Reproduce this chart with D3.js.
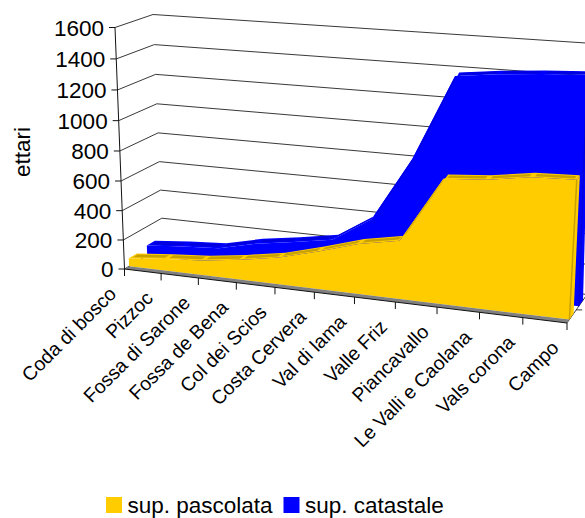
<!DOCTYPE html>
<html>
<head>
<meta charset="utf-8">
<script src="https://cdn.jsdelivr.net/npm/d3@7"></script>
<style>
  html, body { margin: 0; padding: 0; background: #fff; overflow: hidden; }
  text { font-family: "Liberation Sans", Arial, sans-serif; fill: #000; }
</style>
</head>
<body>
<svg id="chart"></svg>
<script>
const categories = ["Coda di bosco", "Pizzoc", "Fossa di Sarone", "Fossa de Bena", "Col dei Scios", "Costa Cervera",
    "Val di lama", "Valle Friz", "Piancavallo", "Le Valli e Caolana", "Vals corona", "Campo"];
const pascolata = [55, 80, 100, 135, 180, 250, 330, 380, 800, 820, 860, 870];
const catastale = [70, 93, 110, 170, 210, 255, 420, 840, 1385, 1415, 1435, 1450];
const valueTicks = [0, 200, 400, 600, 800, 1000, 1200, 1400, 1600];
const legendNames = ["sup. pascolata", "sup. catastale"];

const width = 585;
const height = 518;

const yellow = "#ffcc00", yellowDark = "#c8a000";
const blue = "#0000ff", blueDark = "#0000dc";

// corners of the 3d box, base and top of each vertical edge
const box = {
    frontLeft: { base: [124.5, 269], top: [115, 27.5] },
    frontRight: { base: [567, 323], top: [582, 59] },
    backLeft: { base: [163, 246], top: [153, 14.5] },
    backRight: { base: [587, 294.5], top: [592, 43.4] }
};

// depth slots of the two slabs (0 front wall, 1 back wall)
const slabs = [
    { name: legendNames[0], values: pascolata, front: 0.12, back: 0.33, fill: yellow, dark: yellowDark },
    { name: legendNames[1], values: catastale, front: 0.59, back: 0.8, fill: blue, dark: blueDark }
];

const xScale = d3.scalePoint().domain(d3.range(categories.length)).range([0, 1]);
const yScale = d3.scaleLinear().domain([0, 1600]).range([0, 1]);

// perspective foreshortening
const foreshorten = (s, a) => s / (a + (1 - a) * s);
const mix = (a, b, t) => a + (b - a) * t;

function project(i, depth, value) {
    const u = foreshorten(xScale(i), 1.109);
    const v = foreshorten(yScale(value), 1.0466);
    const edge = k => mix(
        mix(mix(box.frontLeft.base[k], box.frontLeft.top[k], v), mix(box.frontRight.base[k], box.frontRight.top[k], v), u),
        mix(mix(box.backLeft.base[k], box.backLeft.top[k], v), mix(box.backRight.base[k], box.backRight.top[k], v), u),
        depth);
    return [edge(0), edge(1)];
}

const last = categories.length - 1;
const line = d3.line();
const poly = pts => line(pts) + "Z";

const svg = d3.select("#chart")
    .attr("width", width)
    .attr("height", height)
    .attr("viewBox", [0, 0, width, height]);

// gridlines on the side and back walls
const grid = svg.append("g").attr("fill", "none").attr("stroke", "#222").attr("stroke-width", 0.9);
grid.selectAll("path")
    .data(valueTicks)
    .join("path")
    .attr("d", d => line([project(0, 0, d), project(0, 1, d), project(last, 1, d)]));

// floor edge on the right, with the tick between the two slabs
grid.append("path").attr("d", line([project(last, 0, 0), project(last, 1, 0)]));
const slotTick = project(last, 0.46, 0);
grid.append("path").attr("d", line([slotTick, [slotTick[0] + 6, slotTick[1]]]));

// back slab first, then front one
slabs.slice().reverse().forEach(s => {
    const g = svg.append("g");
    const idx = d3.range(categories.length);
    const front = idx.map(i => project(i, s.front, s.values[i]));
    const back = idx.map(i => project(i, s.back, s.values[i]));

    // right hand side
    g.append("path")
        .attr("fill", s.fill)
        .attr("d", poly([project(last, s.front, 0), project(last, s.back, 0), back[last], front[last]]));
    // top surface
    g.append("path")
        .attr("fill", s.fill)
        .attr("d", poly(front.concat(back.slice().reverse())));
    // front face
    g.append("path")
        .attr("fill", s.fill)
        .attr("d", poly([project(0, s.front, 0)].concat(front, [project(last, s.front, 0)])));

    // darker ridge patches on the top surface
    const d0 = mix(s.front, s.back, 0.25), d1 = mix(s.front, s.back, 0.8);
    g.append("g")
        .attr("fill", s.dark)
        .selectAll("path")
        .data(idx.slice(0, last))
        .join("path")
        .attr("d", i => {
            const at = (d, t) => {
                const a = project(i, d, s.values[i]), b = project(i + 1, d, s.values[i + 1]);
                return [mix(a[0], b[0], t), mix(a[1], b[1], t)];
            };
            return poly([at(d0, 0.06), at(d0, 0.94), at(d1, 0.94), at(d1, 0.06)]);
        });
    // edge down the right of the front face
    g.append("path")
        .attr("fill", "none")
        .attr("stroke", s.dark)
        .attr("stroke-width", 1.5)
        .attr("d", line([project(last, s.front, 0), project(last, s.front, s.values[last])]));
});

// grey strip of the floor under the front slab
svg.append("path")
    .attr("fill", "#808080")
    .attr("d", poly([project(0, 0, 0), project(last, 0, 0), project(last, 0.12, 0), project(0, 0.12, 0)]));

// axes
const axes = svg.append("g").attr("fill", "none").attr("stroke", "#111").attr("stroke-width", 1);
axes.append("path").attr("d", line([project(0, 0, 1600), project(0, 0, 0)]));
axes.append("path").attr("d", line([project(0, 0, 0), project(last, 0, 0)]));

axes.selectAll(".ytick")
    .data(valueTicks)
    .join("path")
    .attr("class", "ytick")
    .attr("d", d => {
        const p = project(0, 0, d);
        return line([[p[0] - 6, p[1]], p]);
    });

axes.selectAll(".xtick")
    .data(d3.range(categories.length))
    .join("path")
    .attr("class", "xtick")
    .attr("d", i => {
        const p = project(i, 0, 0);
        return line([p, [p[0], p[1] + 7]]);
    });

// tick labels
svg.append("g")
    .attr("font-size", 22.5)
    .attr("text-anchor", "end")
    .selectAll("text")
    .data(valueTicks)
    .join("text")
    .attr("x", d => project(0, 0, d)[0] - 11)
    .attr("y", d => project(0, 0, d)[1] + 8)
    .text(d => d);

svg.append("g")
    .attr("font-size", 19.4)
    .attr("text-anchor", "end")
    .selectAll("text")
    .data(categories)
    .join("text")
    .attr("transform", (d, i) => {
        const p = project(i, 0, 0);
        return `translate(${p[0] - 7},${p[1] + 26}) rotate(-45)`;
    })
    .text(d => d);

svg.append("text")
    .attr("transform", "translate(30,152) rotate(-90)")
    .attr("font-size", 22.5)
    .attr("text-anchor", "middle")
    .text("ettari");

// legend
const legend = svg.append("g")
    .selectAll("g")
    .data(slabs)
    .join("g")
    .attr("transform", (d, i) => `translate(${i ? 283.5 : 106},0)`);

legend.append("rect")
    .attr("y", 497)
    .attr("width", 16)
    .attr("height", 16)
    .attr("fill", d => d.fill);

legend.append("text")
    .attr("x", 21.5)
    .attr("y", 513)
    .attr("font-size", 22.5)
    .text(d => d.name);
</script>
</body>
</html>
